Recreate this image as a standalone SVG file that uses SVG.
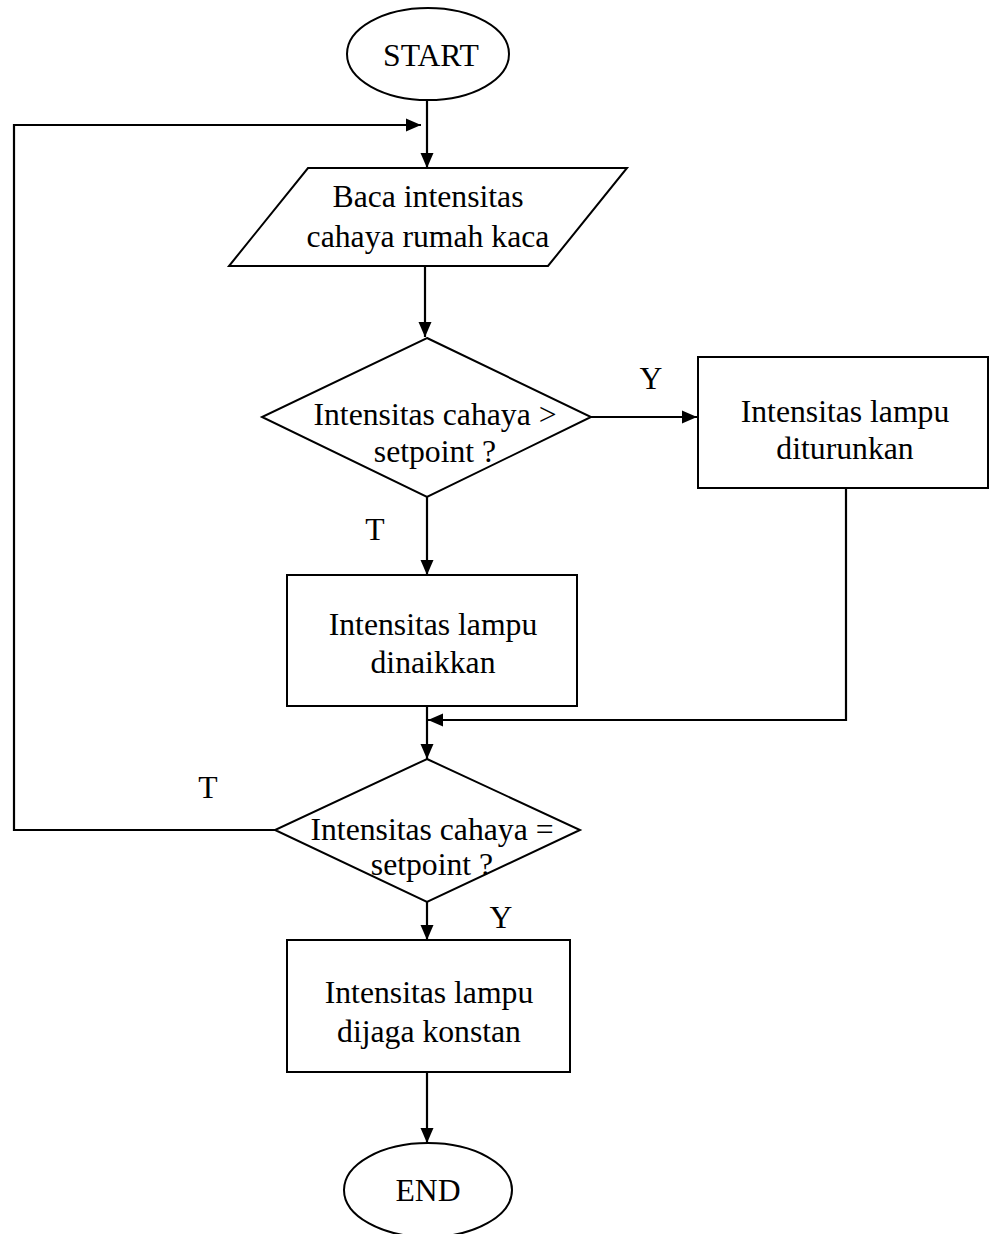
<svg xmlns="http://www.w3.org/2000/svg" width="989" height="1234" viewBox="0 0 989 1234">
<style>
.s{fill:#fff;stroke:#000;stroke-width:2}
.c{fill:none;stroke:#000;stroke-width:2.2}
text{font-family:"Liberation Serif","Times New Roman",serif;font-size:31.7px;fill:#000}
.m{text-anchor:middle}
</style>
<defs>
<marker id="a" markerWidth="15" markerHeight="14" viewBox="0 0 15 14" refX="15" refY="7" orient="auto" markerUnits="userSpaceOnUse">
<path d="M0,0.5 L15,7 L0,13.5 Z" fill="#000"/>
</marker>
</defs>
<rect width="989" height="1234" fill="#fff"/>
<g id="connectors">
<line class="c" x1="427" y1="100" x2="427" y2="168" marker-end="url(#a)"/>
<polyline class="c" points="275,830 14,830 14,125 421,125" marker-end="url(#a)"/>
<line class="c" x1="425" y1="266" x2="425" y2="337" marker-end="url(#a)"/>
<line class="c" x1="591" y1="417" x2="697" y2="417" marker-end="url(#a)"/>
<line class="c" x1="427" y1="497" x2="427" y2="575" marker-end="url(#a)"/>
<polyline class="c" points="846,488 846,720 428,720" marker-end="url(#a)"/>
<line class="c" x1="427" y1="706" x2="427" y2="759" marker-end="url(#a)"/>
<line class="c" x1="427" y1="902" x2="427" y2="940" marker-end="url(#a)"/>
<line class="c" x1="427" y1="1072" x2="427" y2="1143" marker-end="url(#a)"/>
<text x="651" y="389" class="m">Y</text>
<text x="375" y="540" class="m">T</text>
<text x="208" y="798" class="m">T</text>
<text x="501" y="928" class="m">Y</text>
</g>
<g id="start">
<ellipse class="s" cx="428" cy="54" rx="81" ry="46"/>
<text x="431" y="66" class="m">START</text>
</g>
<g id="read">
<polygon class="s" points="308,168 627,168 548,266 229,266"/>
<text x="428" y="207" class="m">Baca intensitas</text>
<text x="428" y="247" class="m">cahaya rumah kaca</text>
</g>
<g id="dec1">
<polygon class="s" points="427,338 591,417 427,497 262,417"/>
<text x="435" y="425" class="m">Intensitas cahaya &gt;</text>
<text x="435" y="462" class="m">setpoint ?</text>
</g>
<g id="down">
<rect class="s" x="698" y="357" width="290" height="131"/>
<text x="845" y="422" class="m">Intensitas lampu</text>
<text x="845" y="459" class="m">diturunkan</text>
</g>
<g id="up">
<rect class="s" x="287" y="575" width="290" height="131"/>
<text x="433" y="635" class="m">Intensitas lampu</text>
<text x="433" y="673" class="m">dinaikkan</text>
</g>
<g id="dec2">
<polygon class="s" points="427,759 580,830 427,902 275,830"/>
<text x="432" y="840" class="m">Intensitas cahaya =</text>
<text x="432" y="875" class="m">setpoint ?</text>
</g>
<g id="const">
<rect class="s" x="287" y="940" width="283" height="132"/>
<text x="429" y="1003" class="m">Intensitas lampu</text>
<text x="429" y="1042" class="m">dijaga konstan</text>
</g>
<g id="end">
<ellipse class="s" cx="428" cy="1190" rx="84" ry="47"/>
<text x="428" y="1201" class="m">END</text>
</g>
</svg>
